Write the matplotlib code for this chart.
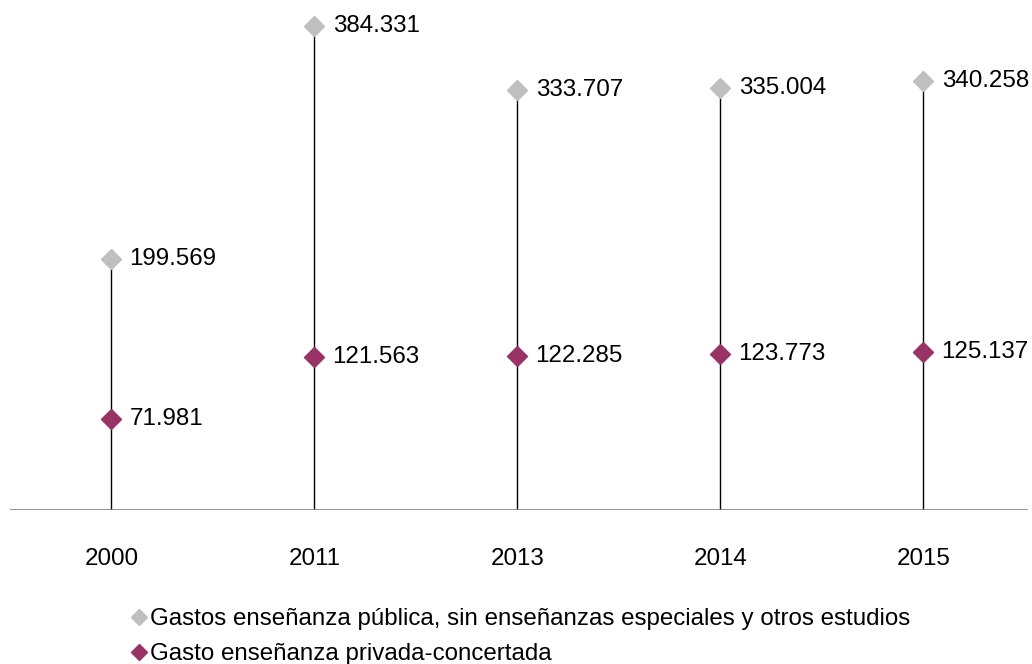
import matplotlib.pyplot as plt

plt.rcParams['font.family'] = ['Liberation Sans', 'DejaVu Sans']

years = ['2000', '2011', '2013', '2014', '2015']
publica = [199.569, 384.331, 333.707, 335.004, 340.258]
concertada = [71.981, 121.563, 122.285, 123.773, 125.137]
labels_publica = ['199.569', '384.331', '333.707', '335.004', '340.258']
labels_concertada = ['71.981', '121.563', '122.285', '123.773', '125.137']

gray = '#BFBFBF'
purple = '#993366'

fig = plt.figure(figsize=(10.32, 6.64), dpi=100)
ax = fig.add_axes([10 / 1032, 154 / 664, 1018 / 1032, 504 / 664])

x = list(range(len(years)))
ax.vlines(x, 0, publica, color='black', lw=1, zorder=1)
ax.axhline(0, color='#7F7F7F', lw=1.2, zorder=1)

ax.plot(x, publica, 'D', color=gray, ms=10, ls='none', zorder=3,
        label='Gastos enseñanza pública, sin enseñanzas especiales y otros estudios')
ax.plot(x, concertada, 'D', color=purple, ms=10, ls='none', zorder=3,
        label='Gasto enseñanza privada-concertada')

fs = 17.4
for i in x:
    ax.annotate(labels_publica[i], (i, publica[i]), xytext=(13, 0), textcoords='offset points',
                va='center', ha='left', fontsize=fs, annotation_clip=False)
    ax.annotate(labels_concertada[i], (i, concertada[i]), xytext=(13, 0), textcoords='offset points',
                va='center', ha='left', fontsize=fs, annotation_clip=False)
    ax.annotate(years[i], (i, 0), xytext=(0, -35), textcoords='offset points',
                va='center', ha='center', fontsize=fs, annotation_clip=False)

ax.set_xlim(-0.5, 4.5 + 3 / 203)
ax.set_ylim(0, 400)
ax.axis('off')

fig.legend(loc='upper left', bbox_to_anchor=(133 / 1032, 1 - 608 / 664), frameon=False,
           fontsize=fs, handlelength=0.5, handletextpad=0.2, borderpad=0, borderaxespad=0,
           labelspacing=0.55, markerscale=0.8)

plt.savefig('out.png', dpi=100)
